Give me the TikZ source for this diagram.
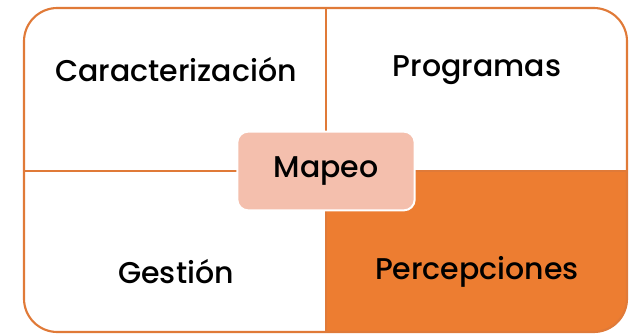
\documentclass[tikz,border=0pt]{standalone}
\usepackage{fontspec}
\setmainfont{Poppins}[UprightFont={* Medium}]
\usetikzlibrary{positioning}
\definecolor{naranja}{HTML}{ED7D31}
\definecolor{borde}{HTML}{E07A38}
\definecolor{salmon}{HTML}{F4BFAD}
\begin{document}
\begin{tikzpicture}[x=0.75pt,y=-0.75pt,
	quad/.style={font=\fontsize{22.5}{26}\selectfont,inner sep=0pt},
	centro/.style={rectangle,rounded corners=8pt,fill=salmon,draw=white,line width=1.5pt,minimum width=133pt,minimum height=59pt,font=\fontsize{22.5}{26}\selectfont},
	linea/.style={draw=borde,line width=1.6pt}]
	\useasboundingbox (0,0) rectangle (631,334);
	% cuadrante coloreado
	\begin{scope}
		\clip[rounded corners=25pt] (24,8) rectangle (627,332);
		\fill[naranja] (326,171) rectangle (627,332);
	\end{scope}
	% marco y divisiones
	\draw[linea,rounded corners=25pt] (24,8) rectangle (627,332);
	\coordinate (arr) at (326,8);
	\coordinate (aba) at (326,332);
	\coordinate (izq) at (24,171);
	\coordinate (der) at (627,171);
	\draw[linea] (arr) -- (aba);
	\draw[linea] (izq) -- (der);
	% textos
	\node[quad] (car) at (176,70) {Caracterización};
	\node[quad] (pro) at (477,70) {Programas};
	\node[quad] (ges) at (176,272) {Gestión};
	\node[quad] (per) at (477,272) {Percepciones};
	\node[centro] (map) at (326,171) {Mapeo};
\end{tikzpicture}
\end{document}
